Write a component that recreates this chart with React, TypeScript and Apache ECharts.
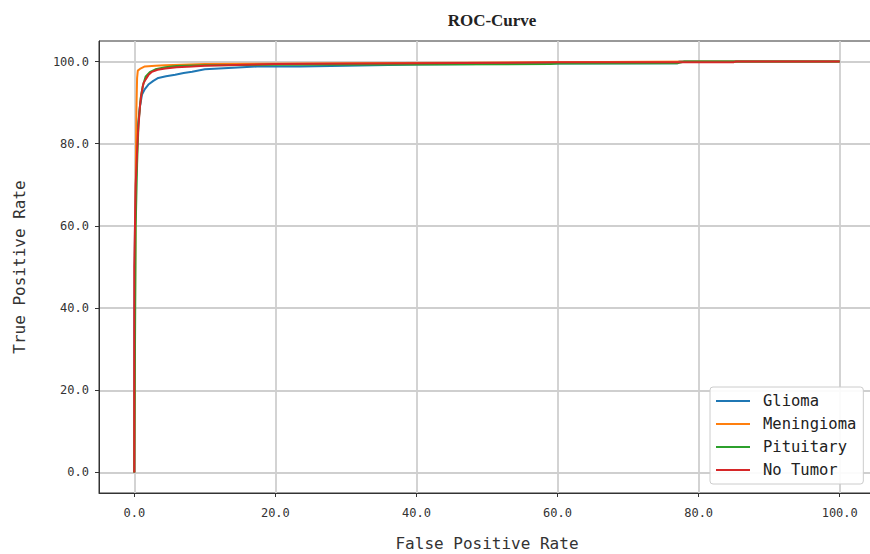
import React, { useEffect, useRef } from "react";
import * as echarts from "echarts";

const seriesNames = ["Glioma", "Meningioma", "Pituitary", "No Tumor"];
const seriesColors = ["#1f77b4", "#ff7f0e", "#2ca02c", "#d62728"];
const tickValues = [0, 20, 40, 60, 80, 100];

const glioma: number[][] = [
  [0, 0], [0, 35], [0.1, 60], [0.3, 75], [0.5, 84], [0.8, 89], [1.1, 92], [1.5, 93.3],
  [2.0, 94.4], [2.7, 95.3], [3.4, 96.0], [4.5, 96.4], [5.8, 96.8], [7, 97.2], [8.2, 97.5],
  [10, 98.1], [14, 98.5], [17.4, 98.8], [23.5, 98.8], [30, 99.0], [40, 99.3], [57, 99.5],
  [77, 99.6], [77.2, 100], [90, 100], [100, 100],
];
const meningioma: number[][] = [
  [0, 0], [0.1, 40], [0.2, 70], [0.3, 88], [0.4, 96], [0.5, 97.8], [0.8, 98.2], [1.5, 98.8],
  [3, 99.0], [4.4, 99.1], [10, 99.4], [30, 99.6], [60, 99.8], [80, 100], [100, 100],
];
const pituitary: number[][] = [
  [0, 0], [0.1, 30], [0.2, 60], [0.4, 75], [0.6, 85], [0.9, 91], [1.2, 94], [1.6, 96.3],
  [2.2, 97.4], [3, 98.1], [4.4, 98.6], [6, 98.9], [10, 99.1], [20, 99.2], [40, 99.3],
  [59, 99.4], [60, 99.5], [77, 99.6], [78, 100], [100, 100],
];
const noTumor: number[][] = [
  [0, 0], [0, 50], [0.2, 70], [0.5, 82], [0.8, 89], [1.0, 92], [1.3, 94.7], [1.6, 95.6],
  [2.0, 96.7], [2.5, 97.5], [3.3, 98.0], [4.4, 98.3], [6, 98.6], [8.2, 98.8], [10, 99.0],
  [20, 99.4], [40, 99.6], [60, 99.8], [85, 99.85], [85.3, 100], [100, 100],
];
const seriesData = [glioma, meningioma, pituitary, noTumor];

const MONO = "'DejaVu Sans Mono', monospace";

export default function App() {
  const ref = useRef<HTMLDivElement>(null);
  useEffect(() => {
    const chart = echarts.init(ref.current!, undefined, { renderer: "svg" });
    const axisCommon = (name: string, isX: boolean) => ({
      type: "value",
      min: -5,
      max: 105,
      name,
      nameLocation: "middle",
      nameGap: isX ? 42 : 72,
      nameTextStyle: { fontFamily: MONO, fontSize: 16, color: "#333" },
      axisLine: { show: true, onZero: false, lineStyle: { color: "#333", width: 1 } },
      axisTick: {
        show: true,
        length: 4,
        customValues: tickValues,
        lineStyle: { color: "#333" },
      },
      axisLabel: {
        customValues: tickValues,
        formatter: (v: number) => v.toFixed(1),
        fontFamily: MONO,
        fontSize: 12,
        color: "#333",
        margin: isX ? 14 : 10,
      },
      splitLine: { show: true, lineStyle: { color: "#cfcfcf", width: 1.8 } },
    });
    chart.setOption({
      animation: false,
      backgroundColor: "#fff",
      title: {
        text: "ROC-Curve",
        left: 487,
        top: 7,
        textAlign: "center",
        textStyle: { fontFamily: "'Liberation Serif', serif", fontWeight: "bold", fontSize: 17, color: "#222" },
      },
      grid: {
        left: 99, top: 41, width: 776, height: 452,
        show: true, borderColor: "#333", borderWidth: 1,
        containLabel: false, outerBoundsMode: "none",
      },
      xAxis: axisCommon("False Positive Rate", true),
      yAxis: axisCommon("True Positive Rate", false),
      legend: {
        orient: "vertical",
        left: 710,
        top: 387,
        data: seriesNames,
        icon: "rect",
        itemWidth: 34,
        itemHeight: 2,
        itemGap: 7,
        padding: [6, 7, 6, 6],
        backgroundColor: "rgba(255,255,255,0.9)",
        borderColor: "#cccccc",
        borderWidth: 1,
        borderRadius: 3,
        textStyle: { fontFamily: MONO, fontSize: 15.5, color: "#222", lineHeight: 16, padding: [0, 0, 0, 8] },
      },
      series: seriesNames.map((n, i) => ({
        name: n,
        type: "line",
        data: seriesData[i],
        symbol: "none",
        color: seriesColors[i],
        lineStyle: { width: 2, color: seriesColors[i] },
        clip: true,
      })),
    });
    return () => chart.dispose();
  }, []);
  return <div ref={ref} style={{ width: 870, height: 554, position: "absolute", left: 0, top: 0 }} />;
}
